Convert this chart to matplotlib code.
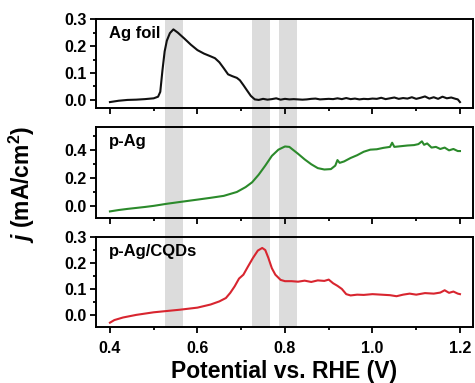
import matplotlib
matplotlib.use("Agg")
import matplotlib.pyplot as plt
from matplotlib.patches import Rectangle
from matplotlib.ticker import MultipleLocator
import matplotlib.transforms as mtransforms

plt.rcParams['font.family'] = ['Liberation Sans', 'DejaVu Sans']
plt.rcParams['font.weight'] = 'bold'
plt.rcParams['mathtext.fontset'] = 'custom'
plt.rcParams['mathtext.rm'] = 'Liberation Sans:bold'
plt.rcParams['mathtext.it'] = 'Liberation Sans:italic:bold'
plt.rcParams['mathtext.bf'] = 'Liberation Sans:bold'

# Ag foil
pot_foil = [0.400, 0.420, 0.440, 0.460, 0.480, 0.500, 0.510, 0.515, 0.520, 0.525,
            0.530, 0.537, 0.545, 0.555, 0.570, 0.585, 0.600, 0.615, 0.630, 0.640,
            0.650, 0.660, 0.670, 0.680, 0.690, 0.697, 0.705, 0.713, 0.722, 0.731,
            0.740, 0.750, 0.760, 0.770, 0.780, 0.790, 0.800, 0.810, 0.820, 0.830,
            0.840, 0.850, 0.860, 0.870, 0.880, 0.890, 0.900, 0.910, 0.920, 0.930,
            0.940, 0.950, 0.960, 0.970, 0.980, 0.990, 1.000, 1.010, 1.020, 1.030,
            1.040, 1.050, 1.060, 1.070, 1.080, 1.090, 1.100, 1.110, 1.120, 1.130,
            1.140, 1.150, 1.160, 1.170, 1.180, 1.190, 1.195, 1.200]
j_foil = [-0.008, -0.003, 0.000, 0.001, 0.003, 0.006, 0.012, 0.030, 0.110, 0.180,
          0.220, 0.248, 0.262, 0.250, 0.228, 0.205, 0.185, 0.172, 0.162, 0.155,
          0.140, 0.118, 0.095, 0.088, 0.082, 0.073, 0.055, 0.036, 0.015, 0.002,
          0.000, 0.004, 0.001, 0.003, 0.006, 0.001, 0.004, 0.002, 0.003, 0.002,
          0.001, 0.002, 0.004, 0.005, 0.002, 0.003, 0.004, 0.003, 0.006, 0.003,
          0.007, 0.003, 0.005, 0.002, 0.004, 0.003, 0.005, 0.004, 0.008, 0.003,
          0.006, 0.009, 0.004, 0.007, 0.005, 0.010, 0.004, 0.008, 0.013, 0.005,
          0.010, 0.004, 0.012, 0.006, 0.009, 0.004, 0.002, -0.008]

# p-Ag
pot_pag = [0.400, 0.420, 0.440, 0.460, 0.480, 0.500, 0.530, 0.560, 0.600, 0.630,
           0.660, 0.690, 0.710, 0.725, 0.740, 0.755, 0.770, 0.785, 0.800, 0.810,
           0.820, 0.830, 0.845, 0.860, 0.875, 0.890, 0.905, 0.915, 0.920, 0.925,
           0.935, 0.950, 0.965, 0.980, 0.995, 1.010, 1.025, 1.040, 1.045, 1.050,
           1.065, 1.080, 1.095, 1.105, 1.113, 1.118, 1.125, 1.135, 1.145, 1.155,
           1.165, 1.175, 1.185, 1.195, 1.200]
j_pag = [-0.040, -0.030, -0.022, -0.015, -0.008, 0.000, 0.015, 0.028, 0.045, 0.058,
         0.072, 0.100, 0.135, 0.170, 0.225, 0.290, 0.360, 0.405, 0.428, 0.425,
         0.400, 0.375, 0.335, 0.300, 0.272, 0.262, 0.265, 0.290, 0.330, 0.310,
         0.320, 0.345, 0.365, 0.390, 0.405, 0.408, 0.418, 0.425, 0.455, 0.425,
         0.430, 0.435, 0.438, 0.445, 0.465, 0.440, 0.450, 0.420, 0.425, 0.410,
         0.420, 0.400, 0.410, 0.395, 0.395]

# p-Ag/CQDs
pot_cqd = [0.400, 0.410, 0.430, 0.460, 0.500, 0.530, 0.560, 0.600, 0.630, 0.650,
           0.665, 0.675, 0.685, 0.695, 0.705, 0.715, 0.727, 0.738, 0.748, 0.755,
           0.762, 0.770, 0.778, 0.790, 0.800, 0.815, 0.830, 0.845, 0.860, 0.875,
           0.890, 0.900, 0.910, 0.920, 0.930, 0.940, 0.950, 0.965, 0.980, 1.000,
           1.020, 1.040, 1.055, 1.070, 1.085, 1.100, 1.120, 1.140, 1.155, 1.165,
           1.175, 1.185, 1.195, 1.200]
j_cqd = [-0.030, -0.020, -0.010, 0.000, 0.010, 0.015, 0.020, 0.028, 0.040, 0.052,
         0.065, 0.085, 0.110, 0.140, 0.155, 0.185, 0.220, 0.248, 0.258, 0.250,
         0.220, 0.180, 0.155, 0.135, 0.130, 0.130, 0.128, 0.132, 0.127, 0.133,
         0.131, 0.136, 0.122, 0.112, 0.100, 0.080, 0.075, 0.078, 0.077, 0.080,
         0.078, 0.076, 0.072, 0.078, 0.082, 0.078, 0.084, 0.082, 0.086, 0.095,
         0.085, 0.090, 0.082, 0.080]

bands = [(0.526, 0.567), (0.725, 0.766), (0.786, 0.827)]

panels = [
    ("Ag foil", pot_foil, j_foil, "#111111", (-0.03, 0.3), 0.1, 0.05),
    ("p-Ag", pot_pag, j_pag, "#2b8a2b", (-0.087, 0.57), 0.2, 0.1),
    ("p-Ag/CQDs", pot_cqd, j_cqd, "#d8252f", (-0.047, 0.3), 0.1, 0.05),
]
boxes = [
    [0.202, 0.718, 0.794, 0.232],
    [0.202, 0.431, 0.794, 0.238],
    [0.202, 0.146, 0.794, 0.235],
]

fig = plt.figure(figsize=(4.75, 3.83), dpi=100)
axes = []
for (label, xs, ys, col, ylim, major, minor), box in zip(panels, boxes):
    ax = fig.add_axes(box)
    ax.set_facecolor('none')
    ax.plot(xs, ys, color=col, lw=1.5)
    ax.set_xlim(0.368, 1.23)
    ax.set_ylim(*ylim)
    ax.xaxis.set_major_locator(MultipleLocator(0.2))
    ax.xaxis.set_minor_locator(MultipleLocator(0.1))
    ax.yaxis.set_major_locator(MultipleLocator(major))
    ax.yaxis.set_minor_locator(MultipleLocator(minor))
    ax.tick_params(which='both', direction='out', width=1.3, labelsize=11.5)
    ax.tick_params(which='major', length=4, pad=2.5)
    ax.tick_params(which='minor', length=2.5)
    ax.tick_params(axis='x', pad=6)
    for s in ax.spines.values():
        s.set_linewidth(1.4)
    ax.text(0.035, 0.84, label, transform=ax.transAxes, fontsize=12,
            fontweight='bold', ha='left', va='center')
    axes.append(ax)

for ax in axes[:2]:
    ax.tick_params(labelbottom=False)

# gray bands across all three panels
trans = mtransforms.blended_transform_factory(axes[2].transData, fig.transFigure)
y_bot = boxes[2][1]
y_top = boxes[0][1] + boxes[0][3]
for x0, x1 in bands:
    r = Rectangle((x0, y_bot), x1 - x0, y_top - y_bot, transform=trans,
                  facecolor='#dcdcdc', edgecolor='none', zorder=-1)
    fig.add_artist(r)

fig.text(0.5 * (boxes[2][0] * 2 + boxes[2][2]), 0.03, "Potential vs. RHE (V)",
         fontsize=16.5, fontweight='bold', ha='center', va='center')
fig.text(0.046, 0.52, r"$j$ (mA/cm$^{2}$)", rotation=90, fontsize=16.5,
         fontweight='bold', ha='center', va='center')

fig.savefig("out.png", dpi=100)
